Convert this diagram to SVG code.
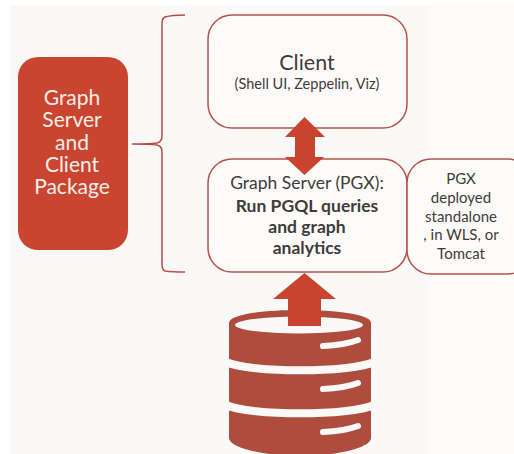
<svg xmlns="http://www.w3.org/2000/svg" width="514" height="454" viewBox="0 0 514 454">
<style>
.bg{fill:#fbf9f8}
.box{fill:#fcfbfa;stroke:#b5534a;stroke-width:1.5}
.t{font-family:"Lato","Noto Sans",sans-serif;fill:#3f3c39;text-anchor:middle}
.w{font-family:"Lato","Noto Sans",sans-serif;fill:#fbeee9;text-anchor:middle;font-size:21px}
.b{font-weight:700;font-size:17.5px}
.d{font-size:15px}
.db{fill:#ae4c3e}
.gap{fill:none;stroke:#fbf9f8;stroke-width:8}
.slot{fill:none;stroke:#fbf9f8;stroke-width:6;stroke-linecap:round}
.arrow{fill:#c9432f}
</style>
<rect width="514" height="454" fill="#ffffff"/>
<rect class="bg" x="10" y="5" width="419" height="449"/>
<rect x="429" y="5" width="85" height="449" fill="#fcfbfa"/>
<g id="package">
<rect x="18" y="57" width="110" height="193" rx="20" fill="#c9452f"/>
<text class="w" x="72" y="105">Graph</text>
<text class="w" x="72" y="127">Server</text>
<text class="w" x="72" y="150">and</text>
<text class="w" x="72" y="172">Client</text>
<text class="w" x="72" y="194">Package</text>
</g>
<g id="connectors">
<path d="M185 15Q172 15 165 17Q162 18 162 24V136Q162 142 157 143Q150 144 132 144Q150 144 157 145Q162 146 162 152V264Q162 270 165 271Q172 272 185 272" fill="none" stroke="#bc4a3e" stroke-width="1.5"/>
</g>
<g id="client">
<rect class="box" x="208" y="15" width="199" height="113" rx="24"/>
<text class="t" x="307" y="70" font-size="21.5">Client</text>
<text class="t" x="307" y="89" font-size="14.5">(Shell UI, Zeppelin, Viz)</text>
</g>
<g id="server">
<rect class="box" x="208" y="159" width="199" height="113" rx="24"/>
<text class="t" x="307" y="189" font-size="17.5">Graph Server (PGX):</text>
<text class="t b" x="307" y="212">Run PGQL queries</text>
<text class="t b" x="307" y="233">and graph</text>
<text class="t b" x="307" y="254">analytics</text>
</g>
<g id="deploy">
<rect class="box" x="407" y="159" width="125" height="115" rx="24"/>
<text class="t d" x="461" y="184">PGX</text>
<text class="t d" x="461" y="203">deployed</text>
<text class="t d" x="461" y="222">standalone</text>
<text class="t d" x="461" y="240">, in WLS, or</text>
<text class="t d" x="461" y="259">Tomcat</text>
</g>
<g id="database">
<path class="db" d="M229 323C229 314 265 310 300 310C335 310 371 314 371 323V438C371 448 335 456 300 456C265 456 229 448 229 438Z"/>
<ellipse cx="299" cy="325" rx="64" ry="8.5" fill="#fbf9f8"/>
<path class="gap" d="M226 362C250 373 350 373 374 362"/>
<path class="gap" d="M226 405C250 416 350 416 374 405"/>
<path class="slot" d="M323 346Q345 345 358 340"/>
<path class="slot" d="M323 389Q345 388 358 383"/>
<path class="slot" d="M323 432Q345 431 358 426"/>
</g>
<g id="arrows">
<path class="arrow" d="M304.500 273L336 299H321V326H288V299H273Z"/>
<path class="arrow" d="M304.500 117L325 137H315V157H324L304.500 175L285 157H295V137H285Z"/>
</g>
</svg>
